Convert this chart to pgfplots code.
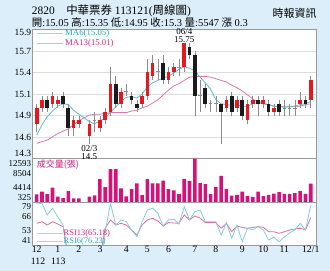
\documentclass[border=0pt]{standalone}
\usepackage{pgfplots}
\pgfplotsset{compat=1.18}
\usepackage{pgfplotstable}
\usepackage{fontspec}
\setmainfont{Liberation Serif}
\newfontfamily\cjk{Noto Sans CJK TC}
\definecolor{bgc}{HTML}{DCEEFA}
\definecolor{redc}{HTML}{E8161E}
\definecolor{blkc}{HTML}{1A1A1A}
\definecolor{wickc}{HTML}{8C8C8C}
\definecolor{volc}{HTML}{D5127A}
\definecolor{ma6c}{HTML}{5BBEC8}
\definecolor{ma13c}{HTML}{D77AAE}
\definecolor{ma6t}{HTML}{2AA5B4}
\definecolor{ma13t}{HTML}{D02B7E}
\definecolor{rsi6c}{HTML}{86CDD5}
\definecolor{rsi13c}{HTML}{D86FA6}
\definecolor{gridc}{HTML}{DEDEDE}
\definecolor{framec}{HTML}{9A9A9A}

% up (red) candles
\pgfplotstableread{
x O H L C
0 14.75 15.00 14.65 14.95
1 14.95 15.10 14.90 15.05
3 15.00 15.15 14.95 15.10
4 15.00 15.10 14.95 15.05
7 14.70 14.85 14.60 14.80
8 14.75 14.85 14.70 14.80
10 14.60 14.80 14.50 14.75
12 14.70 14.85 14.65 14.80
13 14.80 14.95 14.75 14.90
14 14.90 15.45 14.85 15.25
16 15.00 15.20 14.95 15.15
20 15.00 15.15 14.95 15.10
21 15.10 15.55 15.05 15.40
22 15.35 15.60 15.30 15.50
25 15.30 15.45 15.25 15.40
26 15.40 15.50 15.35 15.45
28 15.45 15.75 15.40 15.75
36 14.95 15.10 14.90 15.05
38 14.95 15.10 14.90 15.05
40 14.80 15.05 14.75 15.00
41 15.00 15.10 14.95 15.05
43 15.00 15.10 14.95 15.05
45 14.90 15.00 14.85 14.95
50 15.00 15.15 14.95 15.05
52 15.05 15.35 14.95 15.30
}\upc
% down (black) candles
\pgfplotstableread{
x O H L C
2 15.05 15.10 14.90 14.95
5 15.10 15.15 14.95 15.00
6 14.95 15.00 14.60 14.70
15 15.25 15.35 14.95 15.00
18 15.10 15.15 15.00 15.05
19 15.00 15.05 14.90 14.95
24 15.50 15.60 15.25 15.30
29 15.70 15.75 15.55 15.60
30 15.60 15.65 14.85 15.10
32 15.20 15.25 14.95 15.00
35 15.00 15.00 14.50 14.90
37 15.10 15.15 14.85 14.90
39 15.05 15.10 14.80 14.85
42 15.05 15.10 14.85 15.00
44 15.00 15.05 14.85 14.90
46 15.00 15.05 14.85 14.90
51 15.05 15.10 14.95 15.00
}\downc
% doji candles
\pgfplotstableread{
x O H L C
11 14.80 14.90 14.65 14.80
17 15.15 15.25 15.10 15.15
23 15.40 15.55 15.30 15.40
27 15.45 15.55 15.35 15.45
31 15.10 15.30 14.90 15.10
33 15.00 15.05 14.90 15.00
34 15.00 15.10 14.90 15.00
47 14.95 15.05 14.85 14.95
48 14.95 15.00 14.85 14.95
49 14.95 15.05 14.85 14.95
}\dojic
\pgfplotstableread{
x MA6 MA13
0 14.61 14.51
1 14.74 14.53
2 14.84 14.55
3 14.91 14.59
4 14.97 14.63
5 15.00 14.66
6 14.99 14.69
7 14.92 14.74
8 14.87 14.79
10 14.78 14.86
11 14.75 14.87
12 14.79 14.87
13 14.82 14.88
14 14.90 14.89
15 14.96 14.89
16 15.03 14.89
17 15.08 14.89
18 15.09 14.91
19 15.07 14.92
20 15.12 14.95
21 15.21 14.97
22 15.26 15.01
23 15.29 15.05
24 15.32 15.11
25 15.34 15.17
26 15.38 15.22
27 15.43 15.25
28 15.46 15.29
29 15.44 15.33
30 15.41 15.34
31 15.33 15.34
32 15.26 15.34
33 15.18 15.33
34 15.05 15.31
35 15.00 15.29
36 14.99 15.27
37 14.98 15.23
38 14.99 15.20
39 14.97 15.16
40 14.97 15.11
41 15.00 15.06
42 15.00 15.02
43 15.00 15.00
44 14.99 14.99
45 14.97 14.97
46 14.96 14.97
47 14.96 14.96
48 14.97 14.96
49 14.97 14.97
50 14.99 14.97
51 15.00 14.99
52 15.03 15.00
}\mat
\pgfplotstableread{
x V
0 2555
1 3308
2 2639
3 4423
4 1914
5 1524
6 3475
7 1440
8 1440
10 1914
11 2277
12 6821
13 4591
14 9609
15 9609
16 4228
17 1998
18 4033
19 5622
20 2360
21 6821
22 5622
23 5622
24 6375
25 4033
26 3671
27 2611
28 6877
29 6319
30 12593
31 5678
32 5399
33 2611
34 4646
35 7713
36 4089
37 2221
38 2416
39 3336
40 2137
41 1858
42 3336
43 2054
44 2416
45 2778
46 3169
47 2695
48 2695
49 2890
50 3448
51 2695
52 5547
}\volt
\pgfplotstableread{
x R6 R13
0 77.5 60.3
1 78.1 61.7
2 67.7 58.8
3 73.7 61.7
4 66.2 59.7
5 58.8 57.3
6 30 30
7 28 32
8 30 33
10 22 30
11 28 32
12 25 30
13 52.8 55.9
14 78.1 63.3
15 58.8 58.8
16 63.3 60.3
17 61.7 58.8
18 54.4 54.4
19 48.4 49.9
20 61.5 58.8
21 72.1 63.3
22 73.7 64.8
23 69.2 62.4
24 57.9 57.9
25 63.3 61.0
26 63.9 60.6
27 59.7 60.3
28 75.1 67.7
29 63.3 63.3
30 70.6 66.8
31 72.1 65.0
32 61.7 60.9
33 61.7 60.9
34 61.7 60.9
35 49.9 55.9
36 60.9 60.3
37 47.0 52.8
38 58.8 57.9
39 43.9 56.6
40 55.9 55.9
41 54.4 56.6
42 57.3 57.3
43 54.4 56.8
44 45.5 52.8
45 47.9 52.8
46 43.9 51.4
47 48.1 52.8
48 51.7 54.4
49 54.4 55.2
50 60.3 55.9
51 54.4 54.4
52 76.23 65.18
}\rsit

\pgfplotsset{
  panel/.style={
    scale only axis, width=284.4bp, anchor=south west,
    xmin=-0.835, xmax=53.13, xtick=\empty,
    scaled y ticks=false, scaled x ticks=false,
    axis line style={draw=framec, line width=0.6bp},
    major tick length=0pt, tick style={draw=none},
    yticklabel style={font=\fontsize{9}{10}\selectfont, inner sep=1bp},
    axis background/.style={fill=white},
    clip mode=individual,
  },
  wick/.style={draw=none, mark=none, error bars/.cd, y dir=plus, y explicit, error mark=none,
    error bar style={draw=wickc, line width=0.6bp}},
  body/.style={draw=none, mark=none, error bars/.cd, y dir=plus, y explicit, error mark=none,
    error bar style={draw=#1, line width=3.7bp, line cap=butt}},
}

\begin{document}
\begin{tikzpicture}
\fill[bgc] (0,0) rectangle (330bp,271bp);
\useasboundingbox (0,0) rectangle (330bp,271bp);

% price panel
\begin{axis}[panel, at={(32.3bp,112.4bp)}, height=129bp,
  ymin=14.32, ymax=15.92,
  ytick={14.32,14.58667,14.85333,15.12,15.38667,15.65333,15.92},
  yticklabels={,14.6,14.9,15.1,15.4,15.7,},
  yticklabel style={font=\fontsize{9.5}{10}\selectfont},
  ymajorgrids, grid style={draw=gridc, line width=0.5bp}]
\addplot[ma13c, line width=0.8bp, mark=none] table[x=x, y=MA13] {\mat};
\addplot[ma6c, line width=0.8bp, mark=none] table[x=x, y=MA6] {\mat};
\addplot[wick] table[x=x, y=L, y error plus expr=\thisrow{H}-\thisrow{L}] {\upc};
\addplot[wick] table[x=x, y=L, y error plus expr=\thisrow{H}-\thisrow{L}] {\downc};
\addplot[wick] table[x=x, y=L, y error plus expr=\thisrow{H}-\thisrow{L}] {\dojic};
\addplot[only marks, mark=-, mark size=1.8bp, mark options={draw=wickc, line width=0.6bp}] table[x=x, y=O] {\dojic};
\addplot[body=redc] table[x=x, y=O, y error plus expr=\thisrow{C}-\thisrow{O}] {\upc};
\addplot[body=blkc] table[x=x, y=C, y error plus expr=\thisrow{O}-\thisrow{C}] {\downc};
\end{axis}

% volume panel
\begin{axis}[panel, at={(32.3bp,68.7bp)}, height=43.7bp,
  ymin=325, ymax=12593,
  ytick={4414.3,8503.7}, yticklabels={4414,8504}]
\addplot[ybar, bar width=0.68, fill=volc, draw=none] table[x=x, y=V] {\volt};
\end{axis}

% RSI panel
\begin{axis}[panel, at={(32.3bp,26bp)}, height=42.7bp,
  ymin=41, ymax=79,
  ytick={53.667,66.333}, yticklabels={53,66},
  xtick={0,4,8,12,17,21,25,30,34,39,43,47,52},
  xticklabels={12,1,2,3,4,5,6,7,8,9,10,11,12/1},
  xticklabel style={font=\fontsize{9.8}{11}\selectfont, inner sep=1bp, anchor=north}]
\addplot[rsi13c, line width=0.8bp, mark=none] table[x=x, y=R13] {\rsit};
\addplot[rsi6c, line width=0.8bp, mark=none] table[x=x, y=R6] {\rsit};
\end{axis}

% year labels under the month labels
\node[font=\fontsize{9.8}{11}\selectfont, inner sep=0pt] at (38bp,10bp) {112};
\node[font=\fontsize{9.8}{11}\selectfont, inner sep=0pt] at (58.3bp,10bp) {113};

% extreme tick labels
\begin{scope}[every node/.style={anchor=east, inner sep=1bp}]
\node[font=\fontsize{9.5}{10}\selectfont] at (32.3bp,238.7bp) {15.9};
\node[font=\fontsize{9.5}{10}\selectfont] at (32.3bp,117.7bp) {14.3};
\node[font=\fontsize{9}{10}\selectfont] at (32.3bp,107.7bp) {12593};
\node[font=\fontsize{9}{10}\selectfont] at (32.3bp,73.3bp) {325};
\node[font=\fontsize{9}{10}\selectfont] at (32.3bp,64.3bp) {79};
\node[font=\fontsize{9}{10}\selectfont] at (32.3bp,30.3bp) {41};
\end{scope}

% header
\node[anchor=base west, inner sep=0pt, font=\fontsize{11.5}{12}\selectfont] at (31.7bp,256bp)
  {2820\quad{\cjk 中華票券} 113121({\cjk 周線圖})};
\node[anchor=base west, inner sep=0pt, font=\fontsize{10.5}{12}\selectfont] at (31.7bp,244.5bp)
  {{\cjk 開}:15.05 {\cjk 高}:15.35 {\cjk 低}:14.95 {\cjk 收}:15.3 {\cjk 量}:5547 {\cjk 漲} 0.3};
\node[anchor=base east, inner sep=0pt, font=\fontsize{11}{12}\selectfont\cjk] at (316.7bp,253.5bp) {時報資訊};

% MA legend
\draw[ma6c!60, line width=0.6bp] (36.7bp,237.5bp) -- (63.3bp,237.5bp);
\draw[ma13c!60, line width=0.6bp] (36.7bp,227.7bp) -- (63.3bp,227.7bp);
\node[anchor=west, inner sep=1bp, text=ma6t, font=\fontsize{8.8}{10}\selectfont] at (64bp,237.5bp) {MA6(15.05)};
\node[anchor=west, inner sep=1bp, text=ma13t, font=\fontsize{8.8}{10}\selectfont] at (64bp,227.7bp) {MA13(15.01)};

% annotations
\node[font=\fontsize{9}{10}\selectfont, inner sep=0pt] at (184.3bp,239.3bp) {06/4};
\node[font=\fontsize{9}{10}\selectfont, inner sep=0pt] at (184.3bp,231.7bp) {15.75};
\node[font=\fontsize{9}{10}\selectfont, inner sep=0pt] at (89.3bp,122.7bp) {02/3};
\node[font=\fontsize{9}{10}\selectfont, inner sep=0pt] at (89.3bp,114.3bp) {14.5};

% volume title
\node[anchor=west, inner sep=0pt, text=volc, font=\fontsize{9}{10}\selectfont\cjk] at (36.7bp,106bp) {成交量(張)};

% RSI legend
\draw[gray!40, line width=0.6bp] (36.7bp,37.7bp) -- (63.3bp,37.7bp);
\draw[gray!40, line width=0.6bp] (36.7bp,29.3bp) -- (63.3bp,29.3bp);
\node[anchor=west, inner sep=0pt, text=ma13t, font=\fontsize{8.5}{10}\selectfont] at (63.5bp,37.7bp) {RSI13(65.18)};
\node[anchor=west, inner sep=0pt, text=ma6t, font=\fontsize{8.5}{10}\selectfont] at (63.5bp,29.3bp) {RSI6(76.23)};
\end{tikzpicture}
\end{document}
